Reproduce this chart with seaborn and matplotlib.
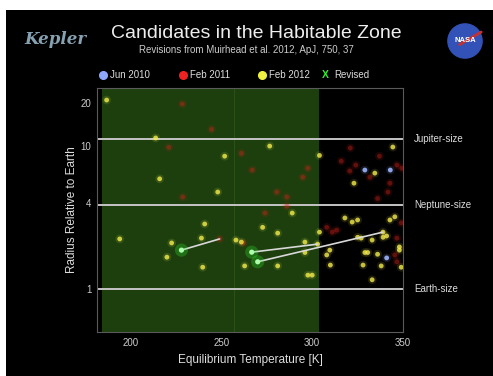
import numpy as np
import pandas as pd
import matplotlib
matplotlib.use("Agg")
import matplotlib.pyplot as plt
from matplotlib.lines import Line2D
from matplotlib.patches import Rectangle, Circle
import seaborn as sns

# ---------------- data ----------------
feb2012_T = [186.8, 213.8, 216.0, 251.8, 276.6, 248.0, 289.0, 240.8, 272.7, 194.0,
             222.6, 239.0, 281.0, 258.0, 261.0, 220.0, 239.7, 262.8, 281.0, 297.6,
             296.0, 296.0, 304.0, 344.4, 334.5, 323.0, 318.0, 322.0, 325.0, 304.0,
             342.8, 345.5, 325.0, 327.0, 333.0, 339.0, 341.0, 348.0, 348.0, 329.0,
             330.6, 336.0, 309.7, 308.0, 310.0, 328.0, 338.0, 349.0, 333.0, 300.0,
             303.0, 339.0]
feb2012_R = [21.0, 11.4, 5.9, 8.5, 10.0, 4.77, 3.4, 2.85, 2.7, 2.24,
             2.1, 2.27, 2.46, 2.2, 2.13, 1.67, 1.42, 1.45, 1.45, 1.25,
             2.13, 1.8, 8.6, 9.85, 6.47, 5.5, 3.14, 2.94, 3.04, 2.5,
             3.04, 3.2, 2.3, 2.27, 2.2, 2.3, 2.35, 1.97, 1.87, 1.8,
             1.8, 1.75, 1.87, 1.73, 1.47, 1.47, 1.45, 1.42, 1.16, 1.25,
             2.06, 2.5]

feb2011_T = [221.0, 228.7, 244.6, 261.0, 267.0, 297.6, 294.8, 280.5, 286.0, 286.0,
             274.0, 249.0, 321.0, 337.0, 316.0, 324.0, 331.8, 320.7, 346.6, 349.4,
             342.8, 341.7, 336.0, 308.0, 311.0, 313.5, 349.0, 346.6, 345.5, 346.6,
             228.5, 262.0]
feb2011_R = [9.8, 4.4, 13.1, 8.9, 6.8, 7.0, 6.06, 4.77, 4.4, 3.8,
             3.4, 2.24, 9.7, 8.5, 7.85, 7.36, 6.06, 6.7, 7.36, 7.0,
             5.5, 4.77, 4.3, 2.7, 2.5, 2.58, 2.9, 2.27, 1.73, 1.55,
             19.7, 2.1]

jun2010_T = [329.0, 343.0, 341.0]
jun2010_R = [6.8, 6.8, 1.65]

revised_new_T = [228.0, 266.7, 270.0]
revised_new_R = [1.87, 1.81, 1.55]
revised_old_T = [249.0, 303.0, 339.0]
revised_old_R = [2.24, 2.06, 2.5]

x_ticks = [200, 250, 300, 350]
y_ticks = [1, 4, 10, 20]
size_lines = {"Jupiter-size": 11.2, "Neptune-size": 3.88, "Earth-size": 1.0}
hz_range = (184.0, 303.5)

# ---------------- figure ----------------
sns.set_style("dark")
plt.rcParams['font.family'] = ['Liberation Sans', 'DejaVu Sans']

W, H = 493, 376
fig = plt.figure(figsize=(W / 100, H / 100), dpi=100, facecolor="white")
fig.add_artist(Rectangle((6 / W, 0), 1, 1 - 10 / H, transform=fig.transFigure,
                         facecolor="black", edgecolor="none", zorder=-10))

ax = fig.add_axes([97 / W, 1 - 332 / H, (403 - 97) / W, (332 - 88) / H])
ax.set_facecolor("black")
ax.set_yscale("log")
ax.set_xlim(181.5, 350)
ax.set_ylim(0.5, 25.5)

# habitable zone
ax.axvspan(hz_range[0], hz_range[1], color="#1c3f0d", zorder=0, lw=0)
ax.axvline(257, color="#2a5218", lw=0.8, zorder=0.5)

for name, val in size_lines.items():
    ax.axhline(val, color="#c4c4c4", lw=1.4, zorder=1)
    ax.text(356, val, name, color="#dddddd", fontsize=7, va="center", ha="left",
            transform=ax.transData, clip_on=False)

rows = []
for t, r in zip(jun2010_T, jun2010_R):
    rows.append(("Jun 2010", t, r))
for t, r in zip(feb2011_T, feb2011_R):
    rows.append(("Feb 2011", t, r))
for t, r in zip(feb2012_T, feb2012_R):
    rows.append(("Feb 2012", t, r))
df = pd.DataFrame(rows, columns=["epoch", "T", "R"])

pal = {"Jun 2010": "#9db4ff", "Feb 2011": "#d8241c", "Feb 2012": "#f4ec4c"}
alphas = {"Jun 2010": 0.9, "Feb 2011": 0.38, "Feb 2012": 0.8}
for ep in ["Feb 2011", "Feb 2012", "Jun 2010"]:
    sub = df[df["epoch"] == ep]
    sns.scatterplot(data=sub, x="T", y="R", color=pal[ep], s=40, alpha=0.12,
                    edgecolor="none", ax=ax, legend=False, zorder=2)
    sns.scatterplot(data=sub, x="T", y="R", color=pal[ep], s=12, alpha=alphas[ep],
                    edgecolor="none", ax=ax, legend=False, zorder=3)

# revisions
for t0, r0, t1, r1 in zip(revised_old_T, revised_old_R, revised_new_T, revised_new_R):
    ax.plot([t0, t1], [r0, r1], color="#d8d8d8", lw=1.2, zorder=4)
rev = pd.DataFrame({"T": revised_new_T, "R": revised_new_R})
sns.scatterplot(data=rev, x="T", y="R", color="#33ff33", s=90, alpha=0.25,
                edgecolor="none", ax=ax, legend=False, zorder=5)
sns.scatterplot(data=rev, x="T", y="R", color="#aaffaa", s=14, alpha=1,
                edgecolor="none", ax=ax, legend=False, zorder=6)

ax.set_xticks(x_ticks)
ax.set_xticklabels([str(v) for v in x_ticks])
ax.set_yticks(y_ticks)
ax.set_yticklabels([str(v) for v in y_ticks])
ax.yaxis.set_minor_locator(matplotlib.ticker.NullLocator())
ax.tick_params(colors="#cccccc", labelsize=7, length=0, pad=4)
ax.grid(False)
for sp in ax.spines.values():
    sp.set_visible(True)
    sp.set_color("#5a5a5a")
    sp.set_linewidth(0.8)
ax.set_xlabel("Equilibrium Temperature [K]", color="#dddddd", fontsize=8.5, labelpad=5)
ax.set_ylabel("Radius Relative to Earth", color="#dddddd", fontsize=8.5, labelpad=2)

# titles
fig.text(0.52, 1 - 33 / H, "Candidates in the Habitable Zone", color="#eeeeee",
         fontsize=14, ha="center", va="center")
fig.text(0.50, 1 - 50 / H, "Revisions from Muirhead et al. 2012, ApJ, 750, 37",
         color="#cccccc", fontsize=7, ha="center", va="center")

# legend
leg_y = 1 - 75 / H
items = [("Jun 2010", "#8fa8ff", "o", 103), ("Feb 2011", "#ee2222", "o", 183),
         ("Feb 2012", "#f0f040", "o", 262)]
for lab, col, mk, px in items:
    fig.add_artist(Line2D([px / W], [leg_y], marker=mk, color=col, markersize=5.5,
                          linestyle="none", transform=fig.transFigure))
    fig.text((px + 7) / W, leg_y, lab, color="#dddddd", fontsize=7, va="center")
fig.text(325 / W, leg_y, "X", color="#33ee33", fontsize=7.5, va="center",
         ha="center", fontweight="bold")
fig.text(334 / W, leg_y, "Revised", color="#dddddd", fontsize=7, va="center")

# logos
fig.text(55 / W, 1 - 39 / H, "Kepler", color="#86a2b2", fontsize=12,
         family="DejaVu Serif", style="italic", fontweight="bold",
         ha="center", va="center")
nasa_ax = fig.add_axes([447 / W, 1 - 59 / H, 36 / W, 36 / H])
nasa_ax.set_xlim(-1, 1)
nasa_ax.set_ylim(-1, 1)
nasa_ax.set_aspect("equal")
nasa_ax.axis("off")
nasa_ax.add_patch(Circle((0, 0), 0.95, color="#3352b8"))
nasa_ax.plot([-0.3, 0.9], [-0.2, 0.5], color="#c83030", lw=2)
nasa_ax.text(0, 0, "NASA", color="white", fontsize=5.5, fontweight="bold",
             ha="center", va="center")

fig.savefig("out.png", dpi=100, facecolor=fig.get_facecolor())
